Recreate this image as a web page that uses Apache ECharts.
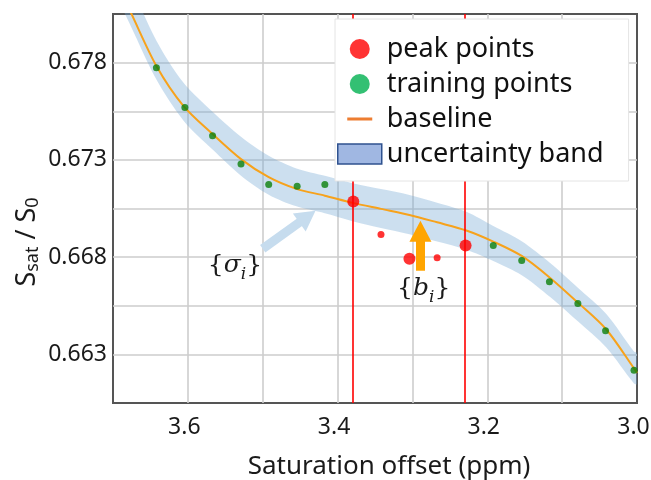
<!DOCTYPE html>
<html>
<head>
<meta charset="utf-8">
<script src="https://cdn.jsdelivr.net/npm/echarts@6/dist/echarts.min.js"></script>
<style>
  html, body { margin: 0; padding: 0; background: #fff; }
  #chart { width: 651px; height: 480px; }
</style>
</head>
<body>
<div id="chart"></div>
<script>
// values: saturation offset (ppm) vs S_sat / S_0
var baseX     = [3.700, 3.676, 3.642, 3.606, 3.567, 3.529, 3.492, 3.455, 3.417, 3.380, 3.342, 3.304, 3.267, 3.228, 3.192, 3.154, 3.116, 3.079, 3.041, 3.004, 3.000];
var baseY     = [0.68250, 0.68056, 0.67783, 0.67578, 0.67433, 0.67304, 0.67211, 0.67151, 0.67116, 0.67079, 0.67048, 0.67017, 0.66979, 0.66937, 0.66880, 0.66806, 0.66693, 0.66566, 0.66428, 0.66228, 0.66205];
var bandUpper = [0.68400, 0.68196, 0.67913, 0.67698, 0.67548, 0.67419, 0.67321, 0.67256, 0.67218, 0.67180, 0.67150, 0.67120, 0.67080, 0.67033, 0.66960, 0.66882, 0.66770, 0.66643, 0.66508, 0.66315, 0.66310];
var bandLower = [0.68180, 0.67986, 0.67713, 0.67503, 0.67353, 0.67219, 0.67121, 0.67061, 0.67026, 0.66985, 0.66950, 0.66918, 0.66880, 0.66838, 0.66780, 0.66707, 0.66595, 0.66470, 0.66335, 0.66150, 0.66145];

var trainX = [3.642, 3.604, 3.567, 3.529, 3.492, 3.454, 3.417, 3.192, 3.154, 3.117, 3.079, 3.042, 3.004];
var trainY = [0.67774, 0.67569, 0.67424, 0.67279, 0.67173, 0.67165, 0.67173, 0.66860, 0.66783, 0.66673, 0.66561, 0.66421, 0.66219];

var peakX = [3.379, 3.304, 3.229];
var peakY = [0.67086, 0.66792, 0.66860];
var peakSmallX = [3.342, 3.267];
var peakSmallY = [0.66916, 0.66797];
var peakLines = [3.379, 3.229];

var xLabels = ['3.6', '3.4', '3.2', '3.0'];
var yLabels = ['0.663', '0.668', '0.673', '0.678'];
var Y0 = 0.6605; // bottom of the y axis

function pairs(xs, ys) {
  return xs.map(function (x, i) { return [x, ys[i] - Y0]; });
}
// band: lower edge, then the width stacked on it ([y, x] so that y is the stacked dim)
var bandLowData = baseX.map(function (x, i) { return [bandLower[i] - Y0, x]; });
var bandDiffData = baseX.map(function (x, i) { return [bandUpper[i] - bandLower[i], x]; });

var FONT = 'Noto Sans';
var MATH = 'DejaVu Serif';
var baseIcon = 'path://M0,0L0.1,0L0,0.1Z M44,20L43.9,20L44,19.9Z M9.5,8.5L34.5,8.5L34.5,11.5L9.5,11.5Z';

var mathRich = {
  i: { fontFamily: MATH, fontStyle: 'italic', fontSize: 25, lineHeight: 34, color: '#1a1a1a' },
  s: { fontFamily: MATH, fontStyle: 'italic', fontSize: 17, lineHeight: 14, verticalAlign: 'bottom', color: '#1a1a1a' }
};

var myChart = echarts.init(document.getElementById('chart'));
myChart.setOption({
  animation: false,
  grid: {
    left: 113, right: 14, top: 14, bottom: 77,
    outerBoundsMode: 'none',
    containLabel: false,
    show: true,
    borderColor: '#555',
    borderWidth: 2
  },
  graphic: [
    {
      // y axis title
      type: 'text',
      x: 27, y: 242,
      rotation: Math.PI / 2,
      style: {
        text: '{m|S}{sub|sat}{m| / S}{sub|0}',
        align: 'center',
        verticalAlign: 'middle',
        rich: {
          m: { fontFamily: FONT, fontSize: 27, fill: '#1a1a1a', lineHeight: 30 },
          sub: { fontFamily: FONT, fontSize: 18, fill: '#1a1a1a', lineHeight: 14, verticalAlign: 'bottom' }
        }
      }
    }
  ],
  legend: {
    orient: 'vertical',
    left: 335, top: 19,
    padding: [15, 25, 12, 2],
    itemWidth: 44, itemHeight: 20, itemGap: 5, itemTextGap: 11,
    backgroundColor: '#fff',
    borderColor: '#e4e4e4', borderWidth: 1,
    z: 10,
    selectedMode: false,
    textStyle: { fontFamily: FONT, fontSize: 27, color: '#111', lineHeight: 30 },
    data: [
      { name: 'peak points', icon: 'circle', itemStyle: { color: '#ff0000', borderWidth: 0 } },
      { name: 'training points', icon: 'circle', itemStyle: { color: '#00b050', borderWidth: 0 } },
      { name: 'baseline', icon: baseIcon, itemStyle: { color: '#ed7d31', borderWidth: 0 } },
      { name: 'uncertainty band', icon: 'rect', itemStyle: { color: '#a0b7e2', borderColor: '#2f528f', borderWidth: 1.5 } }
    ]
  },
  xAxis: {
    type: 'value',
    min: 3.0, max: 3.7, interval: 0.1,
    inverse: true,
    name: 'Saturation offset (ppm)',
    nameLocation: 'middle',
    nameGap: 51,
    nameTextStyle: { fontFamily: FONT, fontSize: 26, color: '#1a1a1a', padding: [0, 0, 0, 28] },
    axisLine: { show: false },
    axisTick: { show: false },
    axisLabel: {
      margin: 13,
      padding: [0, 7, 0, 0],
      fontFamily: FONT, fontSize: 23, color: '#1a1a1a',
      formatter: function (v) {
        var s = v.toFixed(1);
        return xLabels.indexOf(s) >= 0 ? s : '';
      }
    },
    splitLine: { show: true, showMinLine: false, showMaxLine: false, lineStyle: { color: '#cdcdcd', width: 1.6 } }
  },
  yAxis: {
    type: 'value',
    min: 0, max: 0.02, interval: 0.0025,
    axisLine: { show: false },
    axisTick: { show: false },
    axisLabel: {
      margin: 6,
      fontFamily: FONT, fontSize: 23, color: '#1a1a1a',
      formatter: function (v) {
        var s = (v + Y0).toFixed(3);
        return yLabels.indexOf(s) >= 0 ? s : '';
      }
    },
    splitLine: { show: true, showMinLine: false, showMaxLine: false, lineStyle: { color: '#cdcdcd', width: 1.6 } }
  },
  series: [
    {
      name: 'band lower',
      type: 'line',
      stack: 'band',
      encode: { x: 1, y: 0 },
      data: bandLowData,
      symbol: 'none',
      smooth: 0.3,
      lineStyle: { opacity: 0 },
      silent: true,
      z: 1
    },
    {
      name: 'uncertainty band',
      type: 'line',
      stack: 'band',
      encode: { x: 1, y: 0 },
      data: bandDiffData,
      symbol: 'none',
      smooth: 0.3,
      lineStyle: { opacity: 0 },
      areaStyle: { color: 'rgba(115,166,210,0.36)', opacity: 1 },
      itemStyle: { color: '#a0b7e2' },
      silent: true,
      z: 1
    },
    {
      name: 'baseline',
      type: 'line',
      data: pairs(baseX, baseY),
      symbol: 'none',
      smooth: 0.3,
      itemStyle: { color: '#f7a21b' },
      lineStyle: { color: '#f7a21b', width: 2 },
      z: 2,
      markLine: {
        silent: true,
        label: { show: false },
        data: [
          [
            { coord: [3.500, 0.66843 - Y0], symbol: 'none' },
            { coord: [3.4403, 0.67008 - Y0], symbol: 'triangle', symbolSize: [22, 20] }
          ],
          [
            { coord: [3.2893, 0.6673 - Y0], symbol: 'none' },
            { coord: [3.2893, 0.66933 - Y0], symbol: 'triangle', symbolSize: [22, 21] }
          ]
        ].map(function (d, k) {
          var c = k === 0 ? '#c6dcee' : '#ffa500';
          d[0].lineStyle = { color: c, width: 9, type: 'solid' };
          d[1].lineStyle = { color: c, width: 9, type: 'solid' };
          d[1].itemStyle = { color: c };
          return d;
        })
      },
      markPoint: {
        silent: true,
        symbol: 'circle',
        symbolSize: 1,
        itemStyle: { color: 'rgba(0,0,0,0)' },
        data: [
          {
            coord: [3.537, 0.66756 - Y0],
            label: {
              show: true, position: 'inside',
              fontFamily: MATH, fontSize: 25, lineHeight: 34, color: '#1a1a1a',
              formatter: function () { return '{{i|\u03c3}{s|i}}'; },
              rich: mathRich
            }
          },
          {
            coord: [3.285, 0.66638 - Y0],
            label: {
              show: true, position: 'inside',
              fontFamily: MATH, fontSize: 25, lineHeight: 34, color: '#1a1a1a',
              formatter: function () { return '{{i|b}{s|i}}'; },
              rich: mathRich
            }
          }
        ]
      }
    },
    {
      name: 'training points',
      type: 'scatter',
      data: pairs(trainX, trainY),
      symbolSize: 7,
      itemStyle: { color: '#0b7f0b' },
      z: 3
    },
    {
      name: 'peak points',
      type: 'scatter',
      data: pairs(peakX, peakY),
      symbolSize: 12,
      itemStyle: { color: '#ff0000' },
      z: 3,
      markLine: {
        silent: true,
        symbol: 'none',
        label: { show: false },
        lineStyle: { color: '#ff0000', width: 1.6, type: 'solid' },
        data: peakLines.map(function (x) { return { xAxis: x }; })
      }
    },
    {
      name: 'peak points',
      type: 'scatter',
      data: pairs(peakSmallX, peakSmallY),
      symbolSize: 7,
      itemStyle: { color: '#ff0000' },
      z: 3
    }
  ]
});
</script>
</body>
</html>
